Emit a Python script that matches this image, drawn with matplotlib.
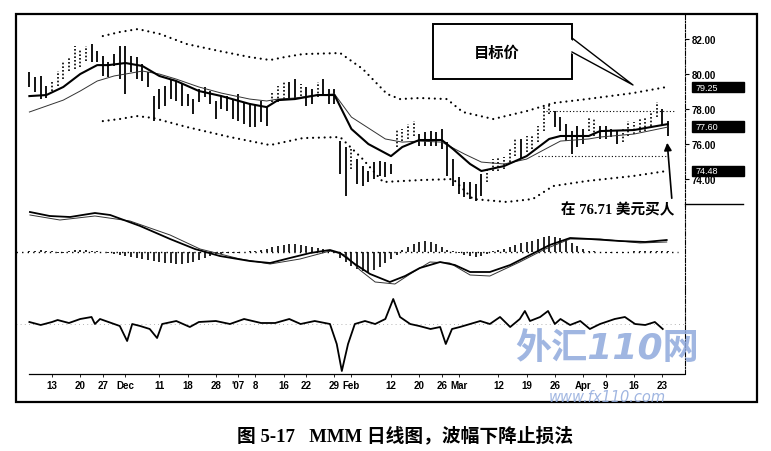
import matplotlib
matplotlib.use("Agg")
import matplotlib.pyplot as plt
from matplotlib.patches import Rectangle, Polygon, FancyArrowPatch
from matplotlib.lines import Line2D
from matplotlib.transforms import Affine2D

plt.rcParams['font.family'] = ['Liberation Sans', 'Noto Sans CJK SC']

# ---- values; x = trading day, 0 = 13 Nov ----
days = list(range(-4, 110))
high = [80.11, 79.83, 79.89, 79.31,
        79.54, 80.17, 80.74, 80.97, 81.60, 81.43, 81.60, 81.71, 81.31, 81.03,
        80.69, 81.14, 81.60, 81.60, 81.03, 80.97, 80.57, 80.11, 78.74, 79.14,
        79.31, 79.71, 79.60, 79.43, 78.86, 78.57, 79.14, 79.26, 79.03, 78.46,
        78.74, 78.74, 78.57, 78.86, 78.40, 78.29, 78.29, 78.46, 78.17, 78.97,
        79.31, 79.54, 79.54, 79.71, 79.43, 79.26, 79.14, 79.54, 79.71, 79.14,
        79.14, 76.17, 75.83, 75.71, 75.14, 74.74, 74.46, 74.97, 75.03, 74.97,
        74.86, 76.86, 76.86, 77.14, 77.31, 76.57, 76.69, 76.74, 76.69, 76.86,
        76.11, 75.14, 74.11, 73.83, 73.83, 73.71, 74.29, 74.57, 75.14, 75.26,
        75.26, 75.71, 76.29, 76.29, 76.46, 76.46, 77.03, 78.11, 78.29, 77.89,
        77.54, 77.14, 76.74, 77.03, 76.86, 77.54, 77.43, 77.03, 77.03, 76.86,
        76.74, 76.86, 77.31, 77.26, 77.43, 77.54, 77.83, 78.40, 78.00, 77.31]
low = [79.26, 78.97, 78.57, 78.63,
       79.03, 79.31, 79.71, 80.17, 80.29, 80.40, 80.74, 80.69, 80.69, 79.89,
       79.83, 80.46, 79.71, 78.86, 80.11, 79.71, 79.60, 79.26, 77.31, 78.00,
       78.17, 78.57, 78.46, 78.17, 78.17, 77.71, 78.40, 78.69, 78.29, 77.43,
       78.00, 77.89, 77.43, 77.31, 77.14, 76.97, 76.97, 77.26, 77.03, 78.40,
       78.40, 78.57, 78.57, 78.57, 78.74, 78.17, 78.29, 78.69, 78.74, 78.29,
       78.29, 74.29, 73.03, 74.57, 73.71, 73.60, 73.83, 74.00, 74.17, 74.11,
       74.29, 75.83, 76.17, 76.29, 76.46, 75.89, 75.89, 75.89, 75.89, 75.71,
       74.17, 73.60, 73.14, 72.97, 72.86, 72.74, 73.03, 73.83, 74.46, 74.46,
       74.57, 74.97, 75.31, 75.14, 75.54, 75.71, 76.11, 76.74, 77.71, 76.97,
       76.74, 76.17, 75.43, 75.83, 76.00, 76.74, 76.46, 76.29, 76.29, 76.40,
       76.00, 76.11, 76.46, 76.57, 76.69, 76.74, 77.03, 77.54, 77.03, 76.46]
up_days = [0, 1, 2, 3, 4, 5, 6, 39, 40, 41, 44, 47, 53, 61, 62, 63, 64,
           77, 78, 79, 80, 81, 82, 84, 85, 86, 87, 88, 95, 96,
           101, 102, 103, 104, 105, 106, 107]

fast_x = [-4, -1, 2, 5, 8, 10, 13, 16, 19, 22, 26, 30, 35, 38, 40, 43, 47, 50,
          53, 56, 60, 62, 65, 69, 71, 74, 76, 80, 84, 88, 90, 95, 97, 103, 109]
fast_ma = [78.74, 78.80, 79.26, 80.00, 80.51, 80.51, 80.63, 80.46, 79.89, 79.60,
           79.03, 78.74, 78.29, 78.11, 78.51, 78.57, 78.80, 78.80, 76.86, 76.00,
           75.31, 75.83, 76.23, 76.23, 75.71, 74.86, 74.46, 74.74, 75.31, 76.29,
           76.46, 76.46, 76.74, 76.80, 77.14]
slow_x = [-4, -1, 2, 5, 8, 11, 13, 16, 19, 22, 26, 30, 35, 38, 40, 43, 47, 50,
          53, 59, 62, 65, 69, 73, 76, 80, 84, 88, 90, 95, 97, 103, 109]
slow_ma = [77.83, 78.17, 78.51, 79.03, 79.60, 79.89, 80.00, 80.17, 80.00, 79.71,
           79.26, 78.91, 78.57, 78.46, 78.57, 78.63, 78.80, 78.86, 77.54, 76.29,
           76.11, 76.17, 76.11, 75.43, 74.97, 74.86, 75.14, 75.83, 76.17, 76.29,
           76.40, 76.57, 76.97]

upper_x = [9, 12, 15.2, 19.1, 23.9, 29.7, 35, 38.6, 41.2, 44.4, 51, 55, 59.3,
           61.6, 65.1, 69.9, 72.7, 78.1, 84.1, 88.7, 94.7, 102.8, 108.8]
upper_band = [82.17, 82.40, 82.57, 82.29, 81.71, 81.31, 80.97, 80.80, 80.97,
              81.14, 81.20, 80.29, 78.86, 78.57, 78.63, 78.57, 77.83, 77.43,
              77.89, 78.34, 78.57, 78.91, 79.26]
lower_x = [9, 12, 15, 17.9, 23.9, 31.5, 38.6, 44.4, 51, 55, 58.6, 65.1, 71,
           74.5, 80.5, 85.1, 88.7, 94.7, 102.8, 108.8]
lower_band = [77.31, 77.43, 77.60, 77.49, 76.97, 76.40, 75.94, 76.34, 76.40,
              75.14, 73.83, 73.94, 74.00, 72.86, 72.69, 72.86, 73.60, 73.89,
              74.17, 74.46]

target_level, target_from = 77.89, 87.5
stop_level, stop_from = 75.31, 86
right_boxes = [("79.25", 79.25), ("77.60", 77.0), ("74.48", 74.48)]

macd_x = [-3.9, -0.4, 3.2, 7.6, 10.3, 15.6, 20.9, 25.3, 29.7, 35, 38.6, 42.1,
          45.7, 49.2, 51, 53.6, 56.3, 59.8, 62.5, 65.1, 68.7, 71.3, 74, 77.5,
          81.1, 84.6, 88.1, 91.7, 95.2, 100.5, 105, 108.8]
macd = [4.0, 3.6, 3.5, 3.9, 3.7, 2.6, 1.3, 0.3, -0.4, -0.9, -1.1, -0.6, -0.1,
        0.2, -0.1, -1.2, -2.2, -3.0, -2.4, -1.6, -1.0, -1.3, -2.0, -2.0, -1.3,
        -0.3, 0.7, 1.4, 1.3, 1.1, 1.0, 1.2]
signal_x = [-3.9, 1.4, 7.6, 13.8, 20.9, 26.2, 33.3, 38.6, 43.9, 49.2, 51.9,
            54.5, 57.2, 60.7, 63.4, 66.9, 70.4, 74, 77.5, 82.8, 87.3, 91.7, 97,
            104.1, 108.8]
signal = [3.7, 3.2, 3.6, 3.1, 1.7, 0.3, -0.7, -1.2, -0.7, 0.1, -0.3, -1.8, -3.0,
          -3.2, -2.2, -1.0, -1.1, -2.3, -2.4, -1.0, 0.3, 1.3, 1.3, 0.9, 1.0]
hist = [0.1, 0.15, 0.2, 0.15,
        0.1, -0.05, -0.1, 0.1, 0.2, 0.25, 0.2, 0.15, 0.1, 0.05,
        -0.1, -0.2, -0.3, -0.4, -0.5, -0.6, -0.7, -0.8, -0.9, -1.0,
        -1.1, -1.1, -1.2, -1.2, -1.1, -1.0, -0.8, -0.6, -0.4, -0.2,
        -0.15, -0.1, -0.1, -0.05, 0.05, 0.1, 0.15, 0.2, 0.3, 0.5,
        0.6, 0.7, 0.8, 0.8, 0.7, 0.6, 0.5, 0.4, 0.3, 0.1,
        -0.1, -0.6, -1.0, -1.4, -1.7, -1.9, -2.0, -1.8, -1.5, -1.1,
        -0.7, -0.3, 0.2, 0.5, 0.8, 1.0, 1.1, 1.0, 0.8, 0.5,
        0.2, 0.1, -0.1, -0.3, -0.4, -0.5, -0.4, -0.2, 0.1, 0.2,
        0.3, 0.5, 0.7, 0.9, 1.0, 1.1, 1.3, 1.5, 1.6, 1.5,
        1.4, 1.2, 0.9, 0.6, 0.3, 0.15, 0.1, 0.05, -0.05, -0.1,
        -0.1, -0.05, 0.05, 0.1, 0.1, 0.1, 0.15, 0.15, 0.1, 0.1]

osc_x = [-4, -2, 0, 1, 3, 5, 7, 7.6, 8.5, 10, 12, 13.3, 14.2, 15.6, 17.3, 18.6,
         19.5, 22, 24.4, 26, 29, 31.5, 34, 37, 39.5, 42, 44, 46.5, 49.2, 50.4,
         51.3, 52.4, 53.6, 55.4, 57.2, 59, 60.4, 61.6, 63.4, 65, 67, 68.7, 69.7,
         70.8, 72.2, 74, 75.8, 77.5, 79.3, 81.1, 82.8, 83.7, 84.6, 86.4, 87.8,
         89, 90, 91.7, 93.5, 95.2, 97, 99.6, 101.4, 103.2, 105, 106.7, 108.1]
osc = [0.2, -0.1, 0.2, 0.4, 0.1, 0.5, 0.7, 0, 0.5, 0.2, -0.2, -1.7, 0, -0.2,
       -0.5, -1.4, 0, 0.3, -0.3, 0.2, 0.3, 0, 0.5, 0.1, 0.1, 0.5, 0, 0.3, 0,
       -2.0, -4.7, -2.0, 0, 0.3, 0, 0.5, 2.5, 0.7, 0, -0.2, -0.5, -0.3, -2.0,
       -0.5, -0.3, 0, 0.3, 0, 0.7, -0.3, 0.5, 1.3, 0.3, 0.7, 1.3, 0, 0.5, -0.1,
       0.3, -0.5, 0, 0.5, 0.7, 0, -0.1, 0.2, -0.5]

tick_days = [0, 5, 9, 13, 19, 24, 29, 33, 36, 41, 45, 50, 53, 60, 65, 69, 72,
             79, 84, 89, 94, 98, 103, 108]
tick_labels = ['13', '20', '27', 'Dec', '11', '18', '28', "'07", '8', '16', '22',
               '29', 'Feb', '12', '20', '26', 'Mar', '12', '19', '26', 'Apr',
               '9', '16', '23']
price_ticks = [74, 76, 78, 80, 82]

# ---- layout ----
fig = plt.figure(figsize=(7.71, 4.52), dpi=100)
pix = Affine2D().scale(1 / 771, -1 / 452).translate(0, 1) + fig.transFigure
L, W = 16 / 771, 669 / 771
ax_p = fig.add_axes([L, 1 - 207 / 452, W, 192 / 452])
ax_m = fig.add_axes([L, 1 - 290 / 452, W, 83 / 452])
ax_o = fig.add_axes([L, 1 - 375 / 452, W, 85 / 452])
axis_ls = (0, (4, 1.5, 1, 1.5))
for ax in (ax_p, ax_m, ax_o):
    ax.set_xlim(-6.37, 112.04)
    ax.set_facecolor('none')
    for s in ('top', 'left', 'bottom'):
        ax.spines[s].set_visible(False)
    ax.spines['right'].set_linestyle(axis_ls)
    ax.spines['right'].set_linewidth(0.8)
    ax.set_xticks([])
    ax.set_yticks([])

# price panel
ax_p.set_ylim(72.46, 83.43)
down = [d for d in days if d not in up_days]
ax_p.vlines(down, [low[d + 4] for d in down], [high[d + 4] for d in down],
            colors='black', lw=1.3)
ax_p.vlines(up_days, [low[d + 4] for d in up_days], [high[d + 4] for d in up_days],
            colors='black', lw=1.2, linestyles=(0, (1, 1.2)))
ax_p.plot(slow_x, slow_ma, color='#333333', lw=0.7)
ax_p.plot(fast_x, fast_ma, color='black', lw=1.5)
dots = (0, (0.01, 2.6))
ax_p.plot(upper_x, upper_band, color='black', lw=1.6, ls=dots, dash_capstyle='round')
ax_p.plot(lower_x, lower_band, color='black', lw=1.6, ls=dots, dash_capstyle='round')
ax_p.hlines(target_level, target_from, 110.5, colors='black', lw=0.8, linestyles=(0, (1, 2)))
ax_p.hlines(stop_level, stop_from, 109, colors='black', lw=0.8, linestyles=(0, (1, 2)))
ax_p.yaxis.tick_right()
ax_p.set_yticks(price_ticks)
ax_p.set_yticklabels(['%.2f' % v for v in price_ticks], fontsize=7, fontweight='bold')
ax_p.tick_params(axis='y', length=3, width=0.8, pad=1.5)
ytr = ax_p.get_yaxis_transform()
for txt, yv in right_boxes:
    ax_p.add_patch(Rectangle((1.0105, yv - 0.29), 0.078, 0.58, transform=ytr,
                             color='black', clip_on=False, zorder=5))
    ax_p.text(1.016, yv, txt, transform=ytr, color='white', fontsize=6.5,
              va='center', ha='left', zorder=6)

# MACD panel
ax_m.set_ylim(-3.7, 4.6)
ax_m.vlines(days, 0, hist, colors='black', lw=1.2)
ax_m.axhline(0, color='black', lw=1.0, ls=(0, (1, 3)), xmax=0.99)
ax_m.plot(signal_x, signal, color='#333333', lw=0.7)
ax_m.plot(macd_x, macd, color='black', lw=1.3)

# oscillator panel
ax_o.set_ylim(-5.0, 3.5)
ax_o.axhline(0, color='#999999', lw=0.6, ls=(0, (1, 4)))
ax_o.plot(osc_x, osc, color='black', lw=1.3)
ax_o.spines['bottom'].set_visible(True)
ax_o.spines['bottom'].set_bounds(-4, 112.04)
ax_o.spines['bottom'].set_linestyle((0, (4, 1)))
ax_o.spines['bottom'].set_linewidth(0.9)
ax_o.set_xticks(tick_days)
ax_o.set_xticklabels(tick_labels, fontsize=7, fontweight='bold')
ax_o.tick_params(axis='x', length=2, width=0.6, pad=2.5)

# frame and right-hand separator
fig.add_artist(Rectangle((16, 15), 741, 388, transform=pix, fill=False, lw=1.6,
                         edgecolor='black'))
fig.add_artist(Line2D([685, 743], [205, 205], transform=pix, color='black', lw=1.0))

# target-price callout
fig.add_artist(Rectangle((433, 25), 139, 55, transform=pix, facecolor='white',
                         edgecolor='black', lw=1.4))
fig.add_artist(Polygon([(569, 39), (633, 86), (569, 53)], transform=pix,
                       facecolor='white', edgecolor='none'))
fig.add_artist(Line2D([572, 633, 572], [39, 86, 53], transform=pix, color='black', lw=1.0))
fig.text(497, 53, '目标价', transform=pix, ha='center', va='center', fontsize=11,
         fontweight='bold', family=['Noto Sans CJK SC'])

# buy annotation
fig.text(618, 210, '在 76.71 美元买人', transform=pix, ha='center', va='center',
         fontsize=10.5, fontweight='bold', family=['Liberation Serif', 'Noto Sans CJK SC'])
fig.add_artist(FancyArrowPatch((672, 202), (667, 141), transform=pix,
                               arrowstyle='-|>', mutation_scale=11, lw=1.2,
                               color='black'))

# watermark
wm = '#8fa9dc'
fig.text(607, 349, '外汇110网', transform=pix, ha='center', va='center', fontsize=26,
         fontweight='bold', style='italic', color=wm, alpha=0.85,
         family=['DejaVu Sans', 'Noto Sans CJK SC'])
fig.text(607, 397.5, 'www.fx110.com', transform=pix, ha='center', va='center',
         fontsize=10.5, style='italic', color=wm, alpha=0.85, family=['DejaVu Sans'])

# caption
fig.text(405, 436, '图 5-17   MMM 日线图，波幅下降止损法', transform=pix,
         ha='center', va='center', fontsize=13.5, fontweight='bold',
         family=['Liberation Serif', 'Noto Sans CJK SC'])

fig.savefig('out.png', dpi=100)
